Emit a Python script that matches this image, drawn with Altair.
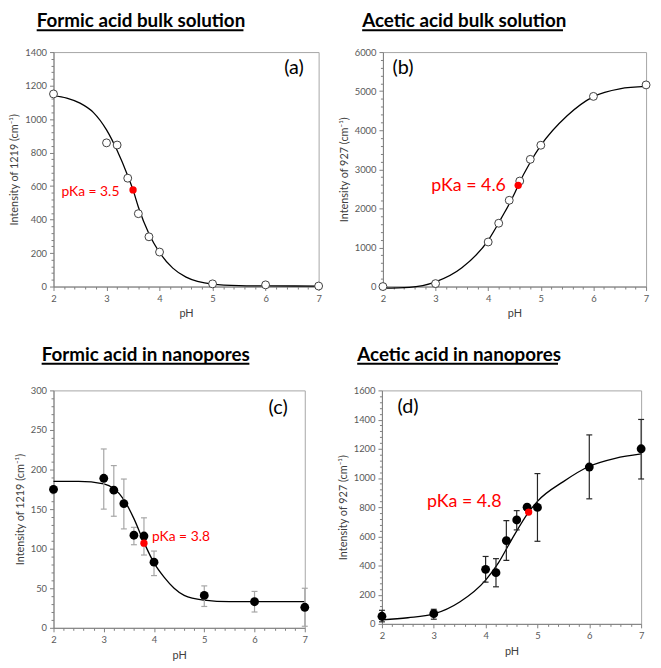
import altair as alt
import pandas as pd

FONT = "Lato"

# ---------------- data ----------------
# (a) Formic acid bulk solution
a_ph = [2.0, 3.0, 3.2, 3.4, 3.6, 3.8, 4.0, 5.0, 6.0, 7.0]
a_int = [1150, 858, 845, 647, 435, 297, 206, 16, 10, 3]
a_curve_ph = [2.0, 2.25, 2.5, 2.75, 3.0, 3.2, 3.4, 3.5, 3.6, 3.8, 4.0, 4.25, 4.5, 5.0, 5.5, 6.0, 7.0]
a_curve = [1140, 1125, 1095, 1040, 935, 812, 662, 577, 475, 315, 203, 110, 56, 15, 6, 4, 3]
a_pka = [3.5, 577]

# (b) Acetic acid bulk solution
b_ph = [2.0, 3.0, 4.0, 4.2, 4.4, 4.6, 4.8, 5.0, 6.0, 7.0]
b_int = [0, 75, 1140, 1620, 2207, 2700, 3255, 3616, 4866, 5160]
b_curve_ph = [2.0, 2.5, 3.0, 3.5, 4.0, 4.25, 4.5, 4.57, 4.8, 5.0, 5.5, 6.0, 6.5, 7.0]
b_curve = [-40, -20, 120, 480, 1180, 1750, 2380, 2590, 3180, 3610, 4370, 4860, 5060, 5120]
b_pka = [4.57, 2590]

# (c) Formic acid in nanopores
c_ph = [2.0, 3.0, 3.2, 3.4, 3.6, 3.8, 4.0, 5.0, 6.0, 7.0]
c_int = [175, 189, 174, 157, 117, 116, 83, 41, 33, 26]
c_lo = [175, 150, 141, 125, 105, 92, 66, 27, 20, 2]
c_hi = [175, 226, 205, 188, 127, 139, 97, 53, 46, 50]
c_curve_ph = [2.0, 2.5, 3.0, 3.2, 3.4, 3.6, 3.8, 4.0, 4.2, 4.4, 4.6, 5.0, 5.5, 7.0]
c_curve = [185, 185, 182, 176, 162, 138, 108, 82, 64, 50, 41, 35, 33, 33]
c_pka = [3.8, 107]

# (d) Acetic acid in nanopores
d_ph = [2.0, 3.0, 4.0, 4.2, 4.4, 4.6, 4.8, 5.0, 6.0, 7.0]
d_int = [52, 70, 374, 351, 571, 712, 800, 798, 1075, 1200]
d_lo = [14, 32, 286, 254, 435, 644, 780, 566, 857, 993]
d_hi = [93, 100, 462, 447, 707, 776, 815, 1030, 1295, 1401]
d_curve_ph = [2.0, 2.5, 3.0, 3.5, 4.0, 4.25, 4.5, 4.83, 5.0, 5.5, 6.0, 6.5, 7.0]
d_curve = [28, 42, 68, 150, 300, 420, 576, 766, 840, 975, 1080, 1135, 1165]
d_pka = [4.83, 766]

titles = ["Formic acid bulk solution", "Acetic acid bulk solution",
          "Formic acid in nanopores", "Acetic acid in nanopores"]
tags = ["(a)", "(b)", "(c)", "(d)"]
tag_pos = [[6.35, 1307], [2.18, 5596], [6.28, 278], [2.3, 1483]]
pka_labels = ["pKa = 3.5", "pKa = 4.6", "pKa = 3.8", "pKa = 4.8"]
pka_label_pos = [[2.15, 563], [2.92, 2575], [3.96, 115], [2.87, 837]]
ylabels = ["Intensity of 1219 (cm\u207b\u00b9)", "Intensity of 927 (cm\u207b\u00b9)",
           "Intensity of 1219 (cm\u207b\u00b9)", "Intensity of 927 (cm\u207b\u00b9)"]
x_ticks = [round(2 + 0.2 * i, 1) for i in range(26)]


def make_panel(i, ph, vals, curve_ph, curve, pka, ydom, ymajor, yminor,
               width, height, title_x, title_w, title_y, open_markers,
               lo=None, hi=None, err_color="black", tag_size=20, pka_size=14):
    xs = alt.Scale(domain=[2, 7], nice=False, zero=False)
    ys = alt.Scale(domain=ydom, nice=False, zero=False)
    is_major_x = "abs(datum.value - round(datum.value)) < 0.01"
    x_axis = alt.Axis(values=x_ticks, title="pH",
                      labelExpr=f"({is_major_x}) ? format(datum.value, '.0f') : ''",
                      tickSize={"condition": {"test": is_major_x, "value": 4}, "value": 2.5},
                      labelOverlap=False, labelFlush=False)
    y_ticks = list(range(ydom[0], ydom[1] + 1, yminor))
    is_major_y = f"datum.value % {ymajor} === 0"
    y_axis = alt.Axis(values=y_ticks, title=ylabels[i],
                      labelExpr=f"({is_major_y}) ? format(datum.value, 'd') : ''",
                      tickSize={"condition": {"test": is_major_y, "value": 4}, "value": 2.5},
                      labelOverlap=False, labelFlush=False)
    X = alt.X("ph:Q", scale=xs, axis=x_axis)
    Y = alt.Y("v:Q", scale=ys, axis=y_axis)

    layers = []
    cdf = pd.DataFrame({"ph": curve_ph, "v": curve})
    layers.append(alt.Chart(cdf).mark_line(color="black", strokeWidth=1.3,
                                           interpolate="monotone").encode(x=X, y=Y))
    pdf = pd.DataFrame({"ph": ph, "v": vals})
    if lo is not None:
        pdf["lo"] = lo
        pdf["hi"] = hi
        layers.append(alt.Chart(pdf).mark_rule(color=err_color, strokeWidth=1.2).encode(
            x=X, y=alt.Y("lo:Q", scale=ys, axis=y_axis), y2="hi:Q"))
        layers.append(alt.Chart(pdf).mark_tick(color=err_color, orient="horizontal",
                                               size=6, thickness=1.2, opacity=1).encode(
            x=X, y=alt.Y("lo:Q", scale=ys, axis=y_axis)))
        layers.append(alt.Chart(pdf).mark_tick(color=err_color, orient="horizontal",
                                               size=6, thickness=1.2, opacity=1).encode(
            x=X, y=alt.Y("hi:Q", scale=ys, axis=y_axis)))
    if open_markers:
        layers.append(alt.Chart(pdf).mark_circle(color="white", stroke="#404040",
                                                 strokeWidth=1, size=64, opacity=1).encode(x=X, y=Y))
    else:
        layers.append(alt.Chart(pdf).mark_circle(color="black", size=80, opacity=1).encode(x=X, y=Y))
    rdf = pd.DataFrame({"ph": [pka[0]], "v": [pka[1]]})
    layers.append(alt.Chart(rdf).mark_circle(color="#ff0000", size=55, opacity=1).encode(x=X, y=Y))

    adf = pd.DataFrame({"ph": [pka_label_pos[i][0]], "v": [pka_label_pos[i][1]], "t": [pka_labels[i]]})
    layers.append(alt.Chart(adf).mark_text(align="left", baseline="middle", color="#ff0000",
                                           font=FONT, fontSize=pka_size).encode(x=X, y=Y, text="t:N"))
    tdf = pd.DataFrame({"ph": [tag_pos[i][0]], "v": [tag_pos[i][1]], "t": [tags[i]]})
    layers.append(alt.Chart(tdf).mark_text(align="left", baseline="middle", color="black",
                                           font=FONT, fontSize=tag_size).encode(x=X, y=Y, text="t:N"))

    hdf = pd.DataFrame({"t": [titles[i]]})
    layers.append(alt.Chart(hdf).mark_text(align="left", baseline="middle", color="black",
                                           font=FONT, fontSize=19, fontWeight="bold").encode(
        x=alt.value(title_x), y=alt.value(title_y), text="t:N"))
    layers.append(alt.Chart(hdf).mark_rule(color="black", strokeWidth=2).encode(
        x=alt.value(title_x), x2=alt.value(title_x + title_w), y=alt.value(title_y + 9)))

    return alt.layer(*layers).properties(width=width, height=height)


pa = make_panel(0, a_ph, a_int, a_curve_ph, a_curve, a_pka, [0, 1400], 200, 40,
                268, 237, -17, 209, -31, True, pka_size=14)
pb = make_panel(1, b_ph, b_int, b_curve_ph, b_curve, b_pka, [0, 6000], 1000, 200,
                266, 237, -21, 203, -31, True, pka_size=18)
pc = make_panel(2, c_ph, c_int, c_curve_ph, c_curve, c_pka, [0, 300], 50, 10,
                254, 240, -12, 210, -36, False, c_lo, c_hi, err_color="#a6a6a6", pka_size=14)
pd_ = make_panel(3, d_ph, d_int, d_curve_ph, d_curve, d_pka, [0, 1600], 200, 40,
                 262, 236, -25, 203, -36, False, d_lo, d_hi, err_color="#262626", pka_size=18)

row1 = alt.hconcat(pa, pb, spacing=12)
row2 = alt.hconcat(pc, pd_, spacing=27)
chart = alt.vconcat(row1, row2, spacing=26).properties(
    padding={"left": 0, "top": 0, "right": 0, "bottom": 0}).configure_axis(
    grid=False,
    labelFont=FONT, labelFontSize=9.5, labelColor="#595959", labelPadding=3,
    titleFont=FONT, titleFontSize=11, titleFontWeight="normal", titleColor="#404040",
    titlePadding=5,
    domainColor="#7f7f7f", tickColor="#7f7f7f",
).configure_view(stroke="#a6a6a6", strokeWidth=1)

chart.save("out.html", embed_options={"renderer": "svg", "actions": False})
